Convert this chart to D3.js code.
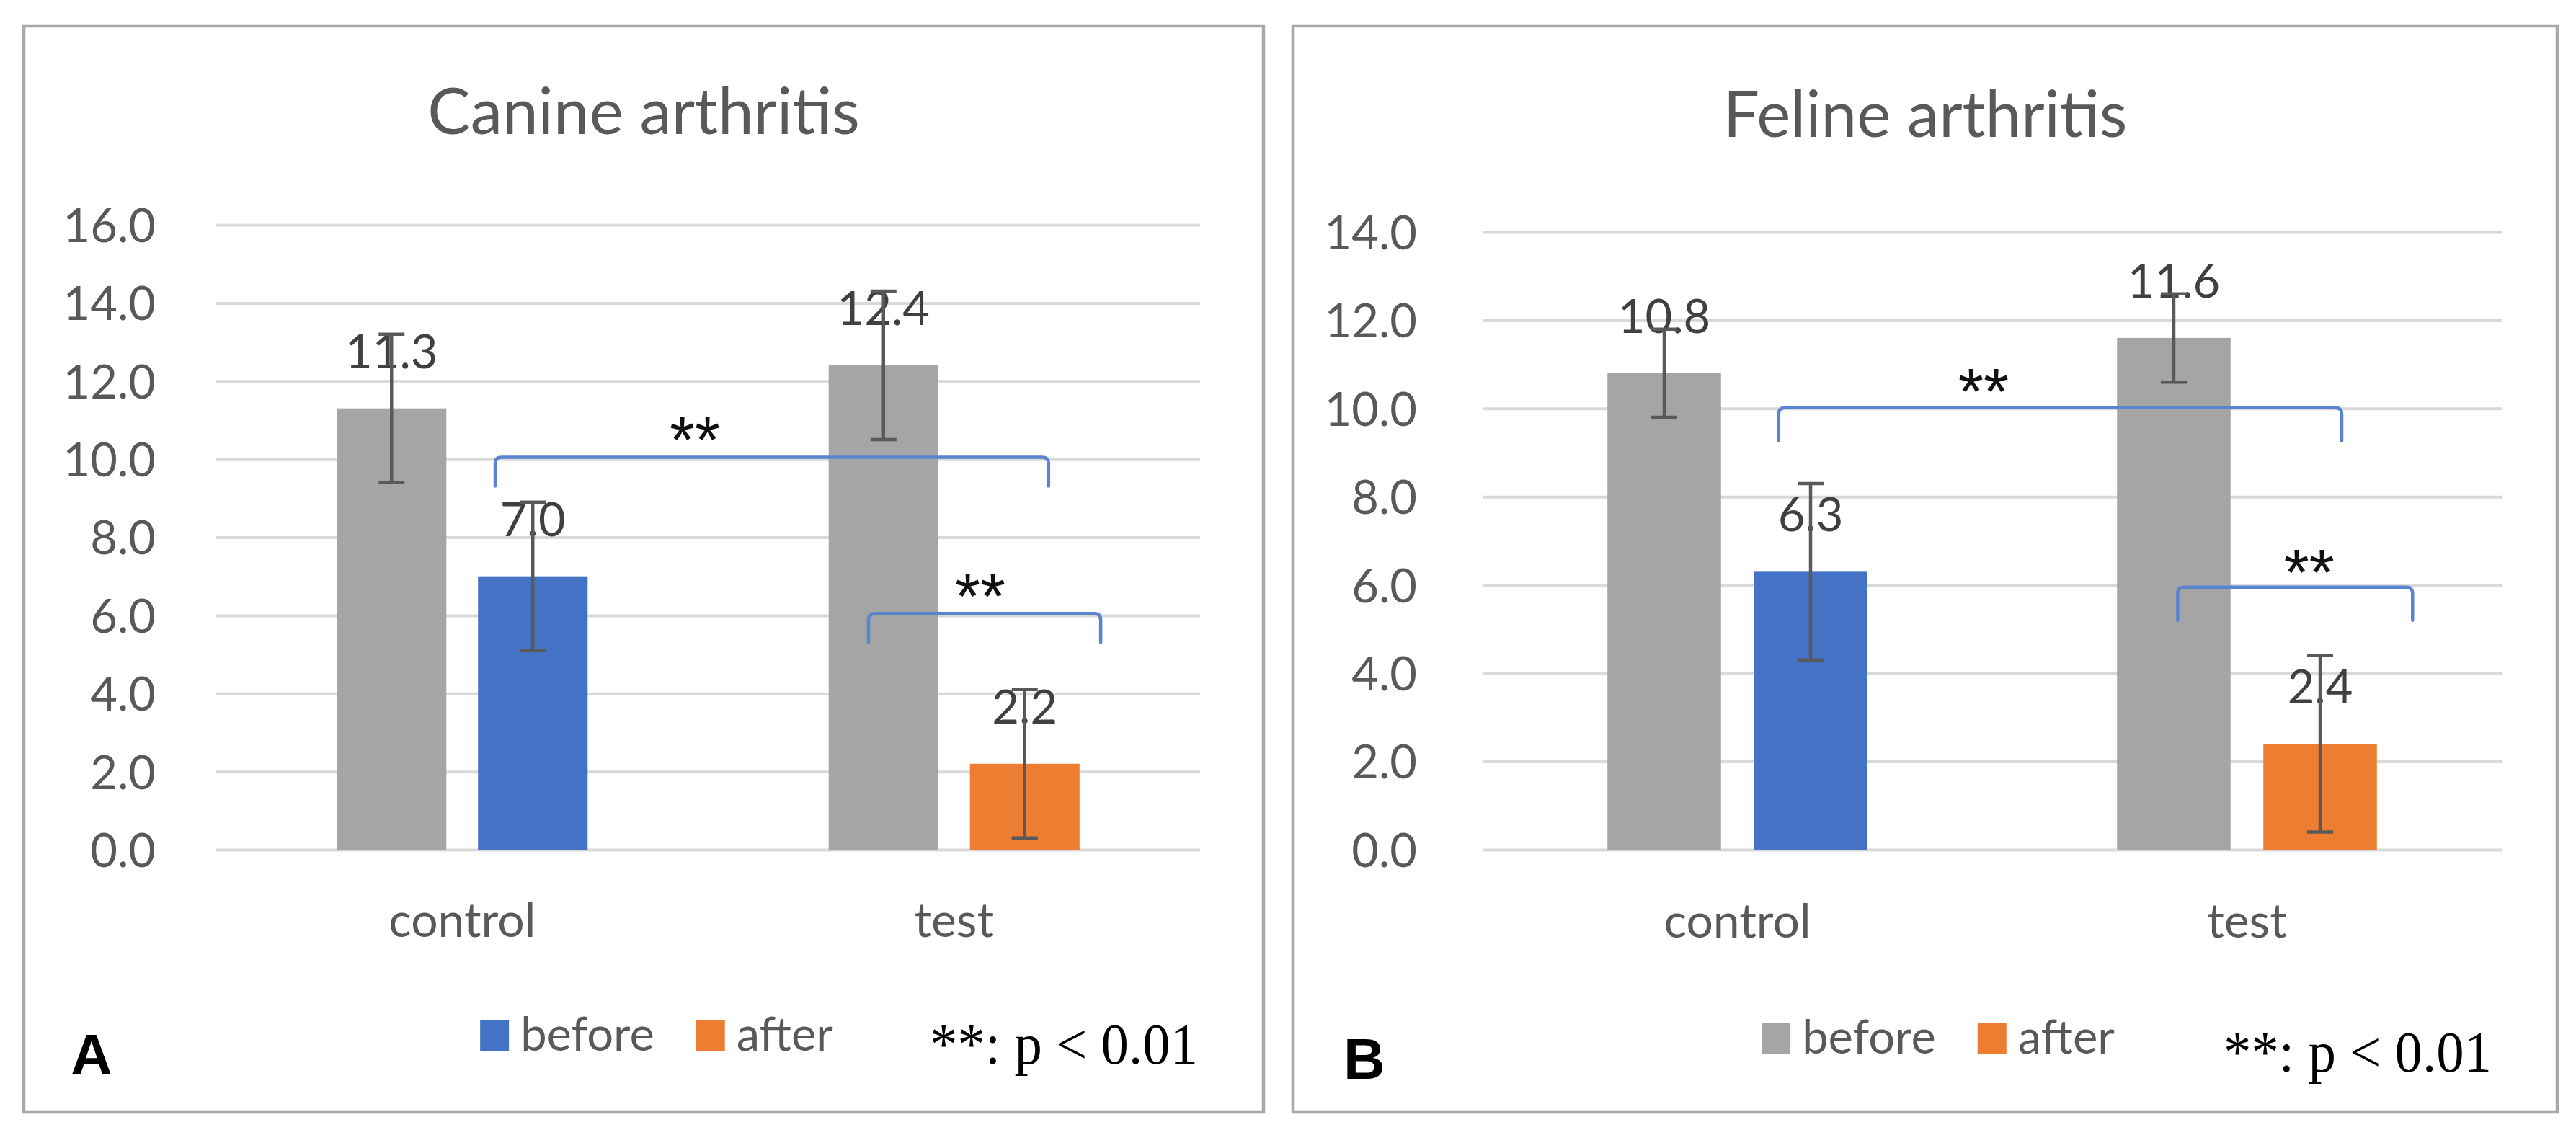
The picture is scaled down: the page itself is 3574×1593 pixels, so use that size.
<!DOCTYPE html>
<html>
<head>
<meta charset="utf-8">
<script src="https://cdn.jsdelivr.net/npm/d3@7"></script>
<style>
body { margin: 0; background: #fff; }
svg { display: block; }
</style>
</head>
<body>
<svg id="chart" width="3574" height="1593"></svg>
<script>
var categories = ["control", "test"],
    series = ["before", "after"];

var canineBefore = [11.3, 12.4],
    canineAfter = [7.0, 2.2],
    canineBeforeErr = [1.9, 1.9],
    canineAfterErr = [1.9, 1.9],
    canineTicks = [0, 2, 4, 6, 8, 10, 12, 14, 16];

var felineBefore = [10.8, 11.6],
    felineAfter = [6.3, 2.4],
    felineBeforeErr = [1.0, 1.0],
    felineAfterErr = [2.0, 2.0],
    felineTicks = [0, 2, 4, 6, 8, 10, 12, 14];

// significance brackets: x in category units (0..2), levels in y units
var canineBrackets = [
    {from: 0.567, to: 1.692, level: 10.05, star: 0.973, starLevel: 10.85},
    {from: 1.326, to: 1.798, level: 6.05, star: 1.553, starLevel: 6.85}
];
var felineBrackets = [
    {from: 0.581, to: 1.686, level: 10.02, star: 0.983, starLevel: 10.7},
    {from: 1.364, to: 1.825, level: 5.95, star: 1.622, starLevel: 6.6}
];

var legendLabels = ["before", "after"],
    pLabel = "**: p < 0.01";

var gray = "#a5a5a5", blue = "#4472c4", orange = "#ed7d31";
var barColor = {
    control: {before: gray, after: blue},
    test: {before: gray, after: orange}
};

var panels = [{
    letter: "A", title: "Canine arthritis",
    before: canineBefore, after: canineAfter,
    beforeErr: canineBeforeErr, afterErr: canineAfterErr,
    ticks: canineTicks, brackets: canineBrackets,
    legendColors: [blue, orange],
    frame: {x: 33, y: 36, w: 1720, h: 1507},
    plot: {left: 300, right: 1665, top: 312, bottom: 1179},
    titleY: 186, tickPad: 84, xLabelY: 1300, legendY: 1458, pY: 1476, letterY: 1491,
    letterX: 98, legendShift: 18, tip: 40
}, {
    letter: "B", title: "Feline arthritis",
    before: felineBefore, after: felineAfter,
    beforeErr: felineBeforeErr, afterErr: felineAfterErr,
    ticks: felineTicks, brackets: felineBrackets,
    legendColors: [gray, orange],
    frame: {x: 1794, y: 36, w: 1754, h: 1507},
    plot: {left: 2057, right: 3471, top: 322, bottom: 1179},
    titleY: 190, tickPad: 91, xLabelY: 1301, legendY: 1462, pY: 1487, letterY: 1497,
    letterX: 1864, legendShift: 18, tip: 46
}];

var sans = "Lato, 'Open Sans', sans-serif";
var fmt = d3.format(".1f");
var svg = d3.select("#chart");

svg.append("rect").attr("width", 3574).attr("height", 1593).attr("fill", "#fff");

panels.forEach(function (p) {
    var g = svg.append("g");
    var f = p.frame, pl = p.plot;

    g.append("rect")
        .attr("x", f.x).attr("y", f.y)
        .attr("width", f.w).attr("height", f.h)
        .attr("fill", "#fff")
        .attr("stroke", "#a8a8a8")
        .attr("stroke-width", 4.5);

    var yMax = p.ticks[p.ticks.length - 1];
    var y = d3.scaleLinear().domain([0, yMax]).range([pl.bottom, pl.top]);
    var x0 = d3.scaleBand().domain(categories).range([pl.left, pl.right]);
    var bw = x0.bandwidth();
    var x1 = d3.scaleBand().domain(series)
        .range([bw * 0.245, bw * 0.755])
        .paddingInner(0.224);
    var pos = d3.scaleLinear().domain([0, categories.length]).range([pl.left, pl.right]);

    // title
    g.append("text")
        .attr("x", f.x + f.w / 2).attr("y", p.titleY)
        .attr("text-anchor", "middle")
        .style("font-family", sans).style("font-size", "89px")
        .attr("fill", "#595959")
        .text(p.title);

    // y axis with gridlines
    var yAxis = d3.axisLeft(y)
        .tickValues(p.ticks)
        .tickSize(-(pl.right - pl.left))
        .tickPadding(p.tickPad)
        .tickFormat(fmt);
    var ya = g.append("g")
        .attr("transform", "translate(" + pl.left + ",0)")
        .call(yAxis);
    ya.select(".domain").remove();
    ya.selectAll(".tick line").attr("stroke", "#d9d9d9").attr("stroke-width", 4);
    ya.selectAll(".tick text")
        .attr("fill", "#595959")
        .attr("dy", "0.36em")
        .style("font-family", sans).style("font-size", "65px");

    // x axis
    var xa = g.append("g")
        .attr("transform", "translate(0," + pl.bottom + ")")
        .call(d3.axisBottom(x0).tickSize(0).tickPadding(p.xLabelY - pl.bottom - 0.71 * 66));
    xa.select(".domain").remove();
    xa.selectAll(".tick text")
        .attr("fill", "#595959")
        .style("font-family", sans).style("font-size", "66px");

    var rows = [];
    categories.forEach(function (c, i) {
        rows.push({cat: c, ser: "before", v: p.before[i], e: p.beforeErr[i]});
        rows.push({cat: c, ser: "after", v: p.after[i], e: p.afterErr[i]});
    });
    var cx = function (d) { return x0(d.cat) + x1(d.ser) + x1.bandwidth() / 2; };

    g.append("g").selectAll("rect")
        .data(rows).enter().append("rect")
        .attr("x", function (d) { return x0(d.cat) + x1(d.ser); })
        .attr("y", function (d) { return y(d.v); })
        .attr("width", x1.bandwidth())
        .attr("height", function (d) { return y(0) - y(d.v); })
        .attr("fill", function (d) { return barColor[d.cat][d.ser]; });

    g.append("g").selectAll("text")
        .data(rows).enter().append("text")
        .attr("x", cx)
        .attr("y", function (d) { return y(d.v) - 56; })
        .attr("text-anchor", "middle")
        .attr("fill", "#404040")
        .style("font-family", sans).style("font-size", "65px")
        .text(function (d) { return fmt(d.v); });

    // error bars
    var eb = g.append("g").attr("stroke", "#595959").attr("stroke-width", 4.5).attr("fill", "none");
    rows.forEach(function (d) {
        var xc = cx(d), t = y(d.v + d.e), b = y(Math.max(0, d.v - d.e));
        eb.append("line").attr("x1", xc).attr("x2", xc).attr("y1", t).attr("y2", b);
        eb.append("line").attr("x1", xc - 18).attr("x2", xc + 18).attr("y1", t).attr("y2", t);
        eb.append("line").attr("x1", xc - 18).attr("x2", xc + 18).attr("y1", b).attr("y2", b);
    });

    // brackets
    var r = 9;
    g.append("g").selectAll("path")
        .data(p.brackets).enter().append("path")
        .attr("d", function (d) {
            var a = pos(d.from), b = pos(d.to), l = y(d.level), t = l + p.tip;
            return "M" + a + "," + t + "V" + (l + r) + "Q" + a + "," + l + " " + (a + r) + "," + l +
                "H" + (b - r) + "Q" + b + "," + l + " " + b + "," + (l + r) + "V" + t;
        })
        .attr("fill", "none")
        .attr("stroke", "#5a84d0")
        .attr("stroke-width", 4.5)
        .attr("stroke-linecap", "round");

    g.append("g").selectAll("text")
        .data(p.brackets).enter().append("text")
        .attr("x", function (d) { return pos(d.star); })
        .attr("y", function (d) { return y(d.starLevel) + 51; })
        .attr("text-anchor", "middle")
        .attr("fill", "#111")
        .style("font-family", "'Liberation Sans', Arial, sans-serif").style("font-size", "90px")
        .text("**");

    // legend
    var lg = g.append("g");
    var lx = 0;
    legendLabels.forEach(function (lab, i) {
        var it = lg.append("g");
        it.append("rect")
            .attr("x", 0).attr("y", p.legendY - 43)
            .attr("width", 40).attr("height", 43)
            .attr("fill", p.legendColors[i]);
        var t = it.append("text")
            .attr("x", 56).attr("y", p.legendY)
            .attr("fill", "#595959")
            .style("font-family", sans).style("font-size", "65px")
            .text(lab);
        var w = 56 + t.node().getComputedTextLength();
        it.attr("transform", "translate(" + lx + ",0)");
        lx += w + 58;
    });
    var lw = lx - 58;
    lg.attr("transform", "translate(" + (f.x + f.w / 2 + p.legendShift - lw / 2) + ",0)");

    g.append("text")
        .attr("x", f.x + f.w - 91).attr("y", p.pY)
        .attr("text-anchor", "end")
        .attr("fill", "#000")
        .attr("textLength", 372)
        .attr("lengthAdjust", "spacingAndGlyphs")
        .style("font-family", "'Liberation Serif', 'Times New Roman', serif").style("font-size", "80px")
        .text(pLabel);

    g.append("text")
        .attr("x", p.letterX).attr("y", p.letterY)
        .attr("fill", "#000")
        .style("font-family", "'Liberation Sans', Arial, sans-serif")
        .style("font-size", "80px").style("font-weight", "bold")
        .text(p.letter);
});
</script>
</body>
</html>
